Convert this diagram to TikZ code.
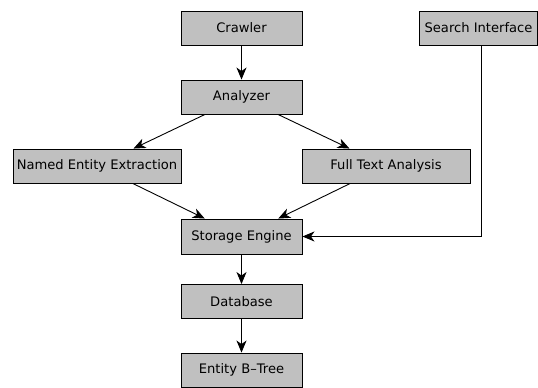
\documentclass[tikz,border=0pt]{standalone}
\usepackage{fontspec}
\setmainfont{DejaVu Sans}
\usetikzlibrary{arrows.meta}
\definecolor{boxgray}{RGB}{192,192,192}
\begin{document}
\begin{tikzpicture}[x=1pt,y=-1pt,
  box/.style={draw=black, fill=boxgray, line width=0.9pt, minimum height=34pt, inner sep=0pt, font=\fontsize{13.1}{15}\selectfont},
  conn/.style={line width=0.9pt, -{Stealth[length=12pt,width=10pt,inset=3.5pt]}}]
\useasboundingbox (0,0) rectangle (538,388);
\node[box, minimum width=121pt] (crawler) at (241.5,28) {Crawler};
\node[box, minimum width=121pt] (analyzer) at (241.5,97) {Analyzer};
\node[box, minimum width=168pt] (nee) at (97,166) {Named Entity Extraction};
\node[box, minimum width=168pt] (fta) at (386,166) {Full Text Analysis};
\node[box, minimum width=121pt, minimum height=35pt] (storage) at (241.5,236.5) {Storage Engine};
\node[box, minimum width=121pt] (db) at (241.5,301.5) {Database};
\node[box, minimum width=121pt] (btree) at (241.5,370) {Entity B–Tree};
\node[box, minimum width=118pt] (search) at (478.5,28) {Search Interface};
\coordinate (sdrop) at ([xshift=2.5pt]search.south);
\draw[conn] (crawler) -- (analyzer);
\draw[conn] (analyzer) -- (nee);
\draw[conn] (analyzer) -- (fta);
\draw[conn] (nee) -- (storage);
\draw[conn] (fta) -- (storage);
\draw[conn] (storage) -- (db);
\draw[conn] (db) -- (btree);
\draw[conn] (sdrop) |- (storage.east);
\end{tikzpicture}
\end{document}
